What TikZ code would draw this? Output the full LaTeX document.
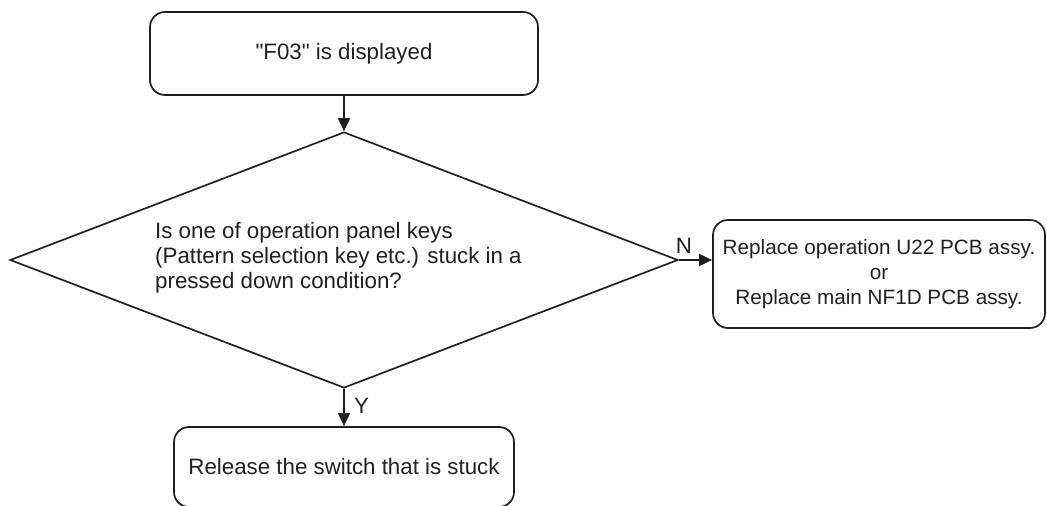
\documentclass[tikz,border=0pt]{standalone}
\usepackage{fontspec}
\setmainfont{Liberation Sans}[Ligatures=TeXOff]
\usetikzlibrary{shapes.geometric,arrows.meta}
\definecolor{ink}{HTML}{231F20}
\begin{document}
\begin{tikzpicture}[x=1pt,y=-1pt,
  every node/.style={text=ink,font=\fontsize{22.3}{25}\selectfont},
  box/.style={draw=ink,line width=1.7pt,rounded corners=15pt,inner sep=0pt,align=center},
  arr/.style={draw=ink,line width=1.7pt,-{Triangle[length=13pt,width=12pt]}}]
\useasboundingbox (0,0) rectangle (1047,506);
\node[box,minimum width=388pt,minimum height=83pt] (top) at (344,53.5) {"F03" is displayed};
\node[draw=ink,line width=1.7pt,diamond,inner sep=0pt,minimum width=668pt,minimum height=256pt] (d) at (344,260) {};
\node[anchor=west,align=left,inner sep=0pt] (q) at (155,258) {Is one of operation panel keys\\(Pattern selection key etc.) stuck in a\\pressed down condition?};
\node[box,minimum width=332pt,minimum height=108pt,font=\fontsize{20.7}{25}\selectfont] (r) at (879,274) {Replace operation U22 PCB assy.\\or\\Replace main NF1D PCB assy.};
\node[box,minimum width=340pt,minimum height=80pt] (b) at (344,467) {Release the switch that is stuck};
\draw[arr] (top.south) -- (d.north);
\draw[arr] (d.east) -- (d.east -| r.west) node[pos=0.15,above=2pt] (n) {N};
\draw[arr] (d.south) -- (b.north) node[pos=0.45,right=6pt] (y) {Y};
\end{tikzpicture}
\end{document}
